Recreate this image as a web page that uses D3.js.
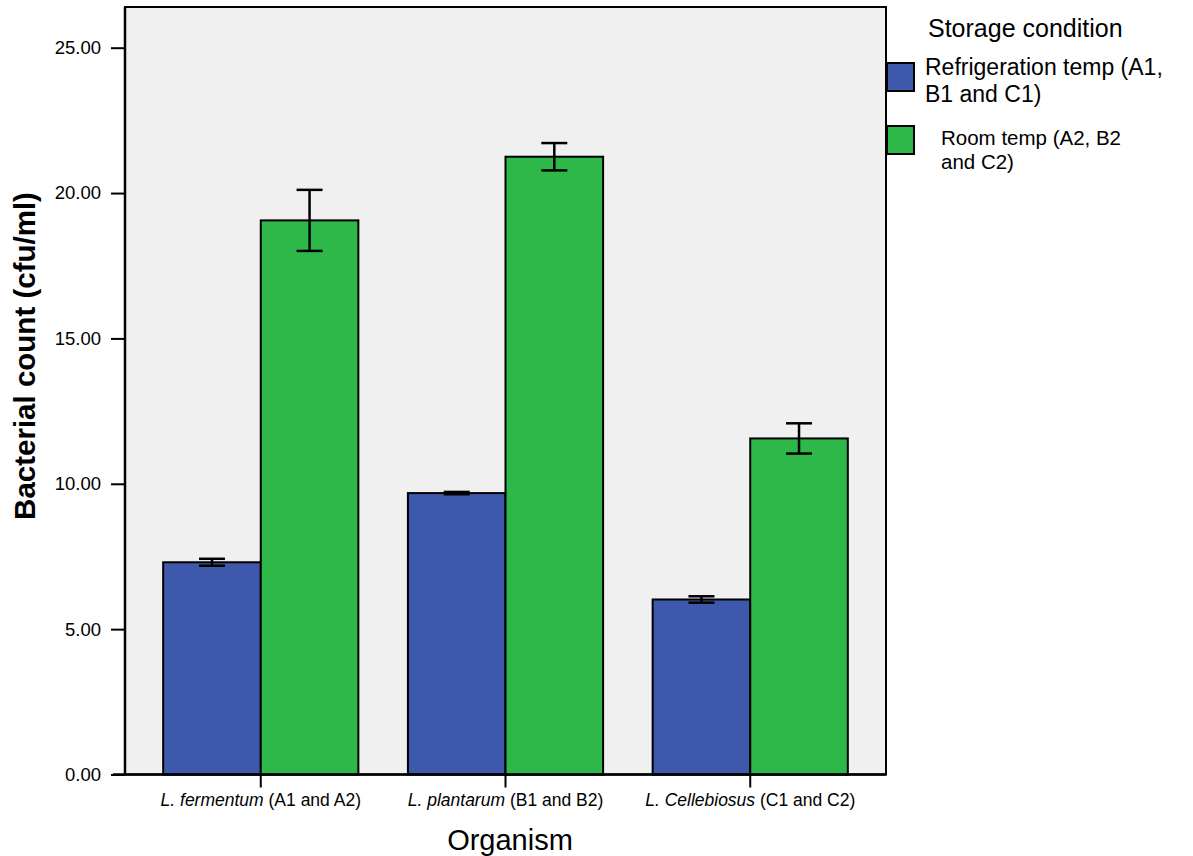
<!DOCTYPE html>
<html>
<head>
<meta charset="utf-8">
<script src="https://cdn.jsdelivr.net/npm/d3@7"></script>
<style>
  html, body { margin: 0; padding: 0; background: #ffffff; }
  svg { display: block; font-family: "Liberation Sans", Arial, sans-serif; }
</style>
</head>
<body>
<svg id="chart" width="1193" height="856"></svg>
<script>
// Organisms on the x axis (italic species name + plain sample codes)
const organismNames = ["L. fermentum", "L. plantarum", "L. Cellebiosus"];
const organismCodes = ["(A1 and A2)", "(B1 and B2)", "(C1 and C2)"];

// Storage conditions
const conditions = ["Refrigeration", "Room"];
const legendLines = [
  ["Refrigeration temp (A1,", "B1 and C1)"],
  ["Room temp (A2, B2", "and C2)"]
];

// Mean bacterial counts (cfu/ml) and error half-widths
const refrigerationMeans = [7.30, 9.68, 6.02];
const refrigerationErr   = [0.12, 0.04, 0.11];
const roomMeans          = [19.06, 21.25, 11.56];
const roomErr            = [1.05, 0.47, 0.52];

const yTicks = [0, 5, 10, 15, 20, 25];

const colors = { Refrigeration: "#3e58ac", Room: "#2fb84a" };

const svg = d3.select("#chart");
const plot = { left: 125, right: 886, top: 7, bottom: 774.5 };

const y = d3.scaleLinear().domain([0, 26.4]).range([plot.bottom, plot.top]);
const x = d3.scaleBand().domain(organismNames)
  .range([plot.left, plot.right]).paddingInner(0.2025).paddingOuter(0.156);
const xInner = d3.scaleBand().domain(conditions).range([0, x.bandwidth()]);

// plot background
svg.append("rect")
  .attr("x", plot.left).attr("y", plot.top)
  .attr("width", plot.right - plot.left).attr("height", plot.bottom - plot.top)
  .attr("fill", "#f0f0f0").attr("stroke", "#000").attr("stroke-width", 2);

// bars
const rows = organismNames.map((name, i) => ({
  name,
  values: [
    { cond: "Refrigeration", mean: refrigerationMeans[i], err: refrigerationErr[i] },
    { cond: "Room", mean: roomMeans[i], err: roomErr[i] }
  ]
}));

const groups = svg.selectAll("g.group").data(rows).join("g")
  .attr("class", "group")
  .attr("transform", d => `translate(${x(d.name)},0)`);

groups.selectAll("rect").data(d => d.values).join("rect")
  .attr("x", d => xInner(d.cond))
  .attr("y", d => y(d.mean))
  .attr("width", xInner.bandwidth())
  .attr("height", d => y(0) - y(d.mean))
  .attr("fill", d => colors[d.cond])
  .attr("stroke", "#000").attr("stroke-width", 2);

// error bars
const capHalf = 13;
groups.selectAll("g.err").data(d => d.values).join("g")
  .attr("class", "err")
  .each(function (d) {
    const g = d3.select(this);
    const cx = xInner(d.cond) + xInner.bandwidth() / 2;
    const y1 = y(d.mean + d.err), y2 = y(d.mean - d.err);
    g.append("line").attr("x1", cx).attr("x2", cx).attr("y1", y1).attr("y2", y2)
      .attr("stroke", "#000").attr("stroke-width", 2.5);
    [y1, y2].forEach(yy => g.append("line")
      .attr("x1", cx - capHalf).attr("x2", cx + capHalf)
      .attr("y1", yy).attr("y2", yy)
      .attr("stroke", "#000").attr("stroke-width", 2.5));
  });

// y axis
const yAxis = d3.axisLeft(y).tickValues(yTicks).tickFormat(d3.format(".2f"))
  .tickSize(14).tickPadding(10);
const gy = svg.append("g").attr("transform", `translate(${plot.left},0)`).call(yAxis);
gy.select(".domain").remove();
gy.selectAll(".tick line").attr("stroke", "#000").attr("stroke-width", 2);
gy.selectAll(".tick text").attr("font-size", 18.5).attr("fill", "#000")
  .attr("font-family", "Liberation Sans, Arial, sans-serif");

// x axis baseline and left axis line
svg.append("line").attr("x1", 113).attr("x2", plot.right)
  .attr("y1", plot.bottom).attr("y2", plot.bottom)
  .attr("stroke", "#000").attr("stroke-width", 2.5);
svg.append("line").attr("x1", plot.left).attr("x2", plot.left)
  .attr("y1", plot.top).attr("y2", plot.bottom)
  .attr("stroke", "#000").attr("stroke-width", 2.5);

const xt = svg.append("g");
organismNames.forEach((name, i) => {
  const cx = x(name) + x.bandwidth() / 2;
  xt.append("line").attr("x1", cx).attr("x2", cx)
    .attr("y1", plot.bottom).attr("y2", plot.bottom + 13)
    .attr("stroke", "#000").attr("stroke-width", 2);
  const t = xt.append("text").attr("x", cx).attr("y", 806)
    .attr("text-anchor", "middle").attr("font-size", 17.5).attr("fill", "#000");
  t.append("tspan").attr("font-style", "italic").text(name);
  t.append("tspan").text(" " + organismCodes[i]);
});

// axis titles
svg.append("text").attr("x", 510).attr("y", 850)
  .attr("text-anchor", "middle").attr("font-size", 29).attr("fill", "#000")
  .text("Organism");
svg.append("text")
  .attr("transform", "translate(35,356) rotate(-90)")
  .attr("text-anchor", "middle").attr("font-size", 29.5).attr("font-weight", "bold")
  .attr("fill", "#000")
  .text("Bacterial count (cfu/ml)");

// legend
svg.append("text").attr("x", 928).attr("y", 37)
  .attr("font-size", 25).attr("fill", "#000").text("Storage condition");

const legend = [
  { cond: "Refrigeration", sy: 63, tx: 925, ty: 75, fs: 23, lh: 26.5 },
  { cond: "Room", sy: 126, tx: 941, ty: 145, fs: 20.5, lh: 23.5 }
];
legend.forEach((l, i) => {
  svg.append("rect").attr("x", 887).attr("y", l.sy).attr("width", 27).attr("height", 28)
    .attr("fill", colors[l.cond]).attr("stroke", "#000").attr("stroke-width", 2);
  const t = svg.append("text").attr("font-size", l.fs).attr("fill", "#000");
  legendLines[i].forEach((s, k) => {
    t.append("tspan").attr("x", l.tx).attr("y", l.ty + k * l.lh).text(s);
  });
});
</script>
</body>
</html>
